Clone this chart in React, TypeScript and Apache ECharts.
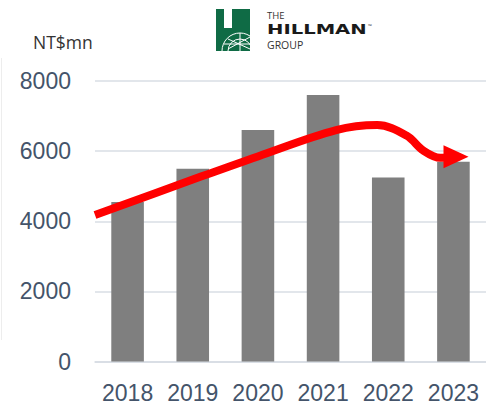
import React, { useEffect, useRef } from "react";
import * as echarts from "echarts";

const years = ["2018", "2019", "2020", "2021", "2022", "2023"];
const revenue = [4550, 5500, 6600, 7600, 5250, 5700];
const yTicks = { min: 0, max: 8000, interval: 2000 };
const unitLabel = "NT$mn";
// trend arrow path in (category position, value) coordinates
const trendX = [-0.5, 1.0, 2.0, 3.2, 3.83, 4.28, 4.54, 4.8, 5.04];
const trendY = [4180, 5190, 5850, 6600, 6745, 6445, 6014, 5810, 5840];

export default function App() {
  const ref = useRef<HTMLDivElement>(null);
  useEffect(() => {
    document.body.style.margin = "0";
    const chart = echarts.init(ref.current!, null, { renderer: "svg" });
    const labelColor = "#44546A";
    const font = "'Open Sans', sans-serif";
    const axisFont = "'Liberation Sans', Arial, sans-serif";
    const trendData = trendX.map((x, i) => {
      if (i === trendX.length - 1) {
        return {
          value: [x, trendY[i]],
          symbol: "triangle",
          symbolSize: [23, 25],
          symbolRotate: -90,
          itemStyle: { color: "#FF0000" },
        };
      }
      return { value: [x, trendY[i]], symbol: "none" };
    });
    chart.setOption({
      animation: false,
      grid: { left: 95, top: 81, width: 398.4, height: 280.6, containLabel: false },
      xAxis: [
        {
          type: "category",
          data: years,
          axisLine: { lineStyle: { color: "#D6DCE4", width: 1.5 } },
          axisTick: { show: false },
          axisLabel: {
            color: labelColor,
            fontSize: 23,
            lineHeight: 23,
            fontFamily: axisFont,
            margin: 20,
            interval: 0,
          },
        },
        { type: "value", min: -0.5, max: 5.5, show: false },
      ],
      yAxis: {
        type: "value",
        min: yTicks.min,
        max: yTicks.max,
        interval: yTicks.interval,
        axisLine: { show: false },
        axisTick: { show: false },
        axisLabel: {
          color: labelColor,
          fontSize: 23,
          fontFamily: axisFont,
          margin: 24,
          formatter: (v: number) => String(v),
        },
        splitLine: { lineStyle: { color: "#D9DEE4", width: 1.5 } },
      },
      series: [
        {
          type: "bar",
          data: revenue,
          barWidth: "50%",
          itemStyle: { color: "#7F7F7F" },
          xAxisIndex: 0,
        },
        {
          type: "line",
          xAxisIndex: 1,
          data: trendData,
          smooth: 0.35,
          showSymbol: true,
          symbol: "none",
          lineStyle: { color: "#FF0000", width: 8 },
          itemStyle: { color: "#FF0000" },
          z: 5,
        },
      ],
      graphic: [
        {
          type: "line",
          shape: { x1: 1.5, y1: 58, x2: 1.5, y2: 340 },
          style: { stroke: "#EDEDED", lineWidth: 1 },
        },
        {
          type: "text",
          left: 33,
          top: 33,
          style: { text: unitLabel, fontSize: 17.5, fontFamily: font, fill: "#333333" },
        },
        // logo
        {
          type: "group",
          left: 216,
          top: 9,
          children: [
            { type: "rect", shape: { x: 0, y: 0, width: 34, height: 42 }, style: { fill: "#0F6B45" } },
            { type: "rect", shape: { x: 8, y: 0, width: 8, height: 19 }, style: { fill: "#FFFFFF" } },
            { type: "arc", shape: { cx: 24, cy: 42, r: 18, startAngle: Math.PI, endAngle: 2 * Math.PI }, style: { stroke: "#FFFFFF", lineWidth: 1, fill: null } },
            { type: "arc", shape: { cx: 24, cy: 42, r: 12, startAngle: Math.PI, endAngle: 2 * Math.PI }, style: { stroke: "#FFFFFF", lineWidth: 1, fill: null } },
            { type: "line", shape: { x1: 24, y1: 24, x2: 24, y2: 42 }, style: { stroke: "#FFFFFF", lineWidth: 1 } },
            { type: "line", shape: { x1: 12, y1: 30, x2: 34, y2: 40 }, style: { stroke: "#FFFFFF", lineWidth: 1 } },
            { type: "line", shape: { x1: 12, y1: 40, x2: 34, y2: 28 }, style: { stroke: "#FFFFFF", lineWidth: 1 } },
            { type: "line", shape: { x1: 8, y1: 35, x2: 34, y2: 35 }, style: { stroke: "#FFFFFF", lineWidth: 1 } },
            {
              type: "text",
              x: 51,
              y: 1,
              style: { text: "THE", fontSize: 9.5, fontFamily: font, fill: "#333333" },
            },
            {
              type: "text",
              x: 51,
              y: 13,
              scaleX: 1.4,
              style: { text: "HILLMAN", fontSize: 14, fontWeight: 900, fontFamily: "'DejaVu Sans', sans-serif", fill: "#1A1A1A" },
            },
            {
              type: "text",
              x: 152,
              y: 14,
              style: { text: "™", fontSize: 5, fontFamily: font, fill: "#333333" },
            },
            {
              type: "text",
              x: 51,
              y: 30,
              style: { text: "GROUP", fontSize: 10.5, fontFamily: font, fill: "#333333" },
            },
          ],
        },
      ],
    });
    return () => chart.dispose();
  }, []);
  return <div ref={ref} style={{ position: "absolute", left: 0, top: 0, width: 486, height: 406 }} />;
}
